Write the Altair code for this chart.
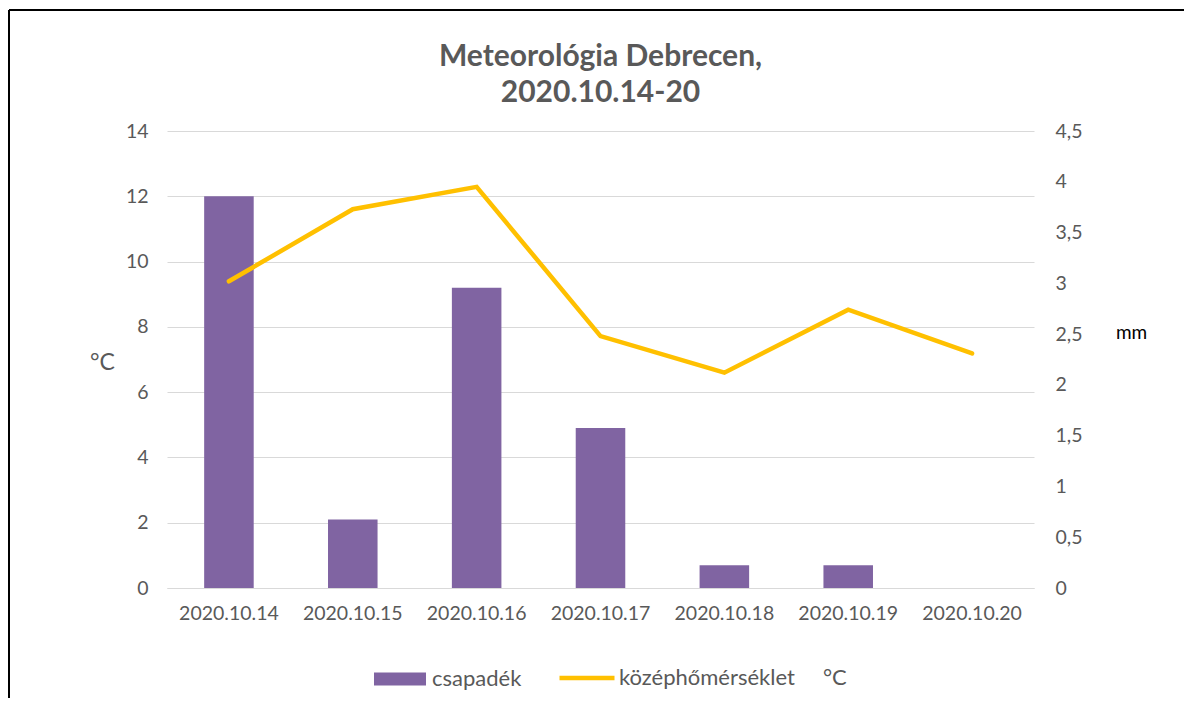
import altair as alt
import pandas as pd

dates = ["2020.10.14", "2020.10.15", "2020.10.16", "2020.10.17", "2020.10.18", "2020.10.19", "2020.10.20"]
csapadek = [12.0, 2.1, 9.2, 4.9, 0.7, 0.7, 0.0]
homerseklet = [3.02, 3.73, 3.95, 2.48, 2.12, 2.74, 2.31]

bar_name = "csapadék"
line_name = "középhőmérséklet\u00a0\u00a0\u00a0\u00a0\u00a0°C"
left_ticks = [0, 2, 4, 6, 8, 10, 12, 14]
right_ticks = [0, 0.5, 1, 1.5, 2, 2.5, 3, 3.5, 4, 4.5]

df = pd.DataFrame({"datum": dates, "csapadek": csapadek, "hom": homerseklet,
                   "s1": bar_name, "s2": line_name})

GREY = "#595959"
FONT = "Lato"

x_enc = alt.X("datum:N", sort=dates, title=None,
              scale=alt.Scale(paddingInner=0.6, paddingOuter=0.3),
              axis=alt.Axis(labelAngle=0, labelColor=GREY, labelFontSize=19.5, labelFont=FONT,
                            labelPadding=16, ticks=False, domainColor="#D9D9D9", domainWidth=1))

bars = alt.Chart(df).mark_bar(color="#8064A2").encode(
    x=x_enc,
    y=alt.Y("csapadek:Q", scale=alt.Scale(domain=[0, 14], nice=False),
            axis=alt.Axis(values=left_ticks, title="°C", titleAngle=0, titleFontSize=23,
                          titleFontWeight="normal", titleColor=GREY, titleFont=FONT,
                          titleX=-65, titleY=231, titleAlign="center", titleBaseline="middle",
                          labelColor=GREY, labelFontSize=19.5, labelFont=FONT, labelPadding=19,
                          ticks=False, domain=False, grid=True, gridColor="#D9D9D9", gridWidth=1)),
    fill=alt.Fill("s1:N", scale=alt.Scale(domain=[bar_name], range=["#8064A2"]),
                  legend=alt.Legend(title=None, orient="none", legendX=207, legendY=522,
                                    symbolType="M-1,-0.25H1V0.25H-1Z", symbolSize=2704,
                                    symbolStrokeWidth=0, labelFontSize=22, labelColor=GREY,
                                    labelFont=FONT, labelOffset=6, padding=0, labelLimit=400)),
)

line = alt.Chart(df).mark_line(strokeWidth=4.5, strokeCap="round").encode(
    x=alt.X("datum:N", sort=dates),
    y=alt.Y("hom:Q", scale=alt.Scale(domain=[0, 4.5], nice=False),
            axis=alt.Axis(orient="right", values=right_ticks, title="mm", titleAngle=0,
                          titleFontSize=19, titleFontWeight="normal", titleColor="#000000",
                          titleFont=FONT, titleX=97, titleY=201, titleAlign="center",
                          titleBaseline="middle",
                          labelExpr="replace(toString(datum.value), '.', ',')",
                          labelColor=GREY, labelFontSize=19.5, labelFont=FONT, labelPadding=21,
                          ticks=False, domain=False, grid=False)),
    stroke=alt.Stroke("s2:N", scale=alt.Scale(domain=[line_name], range=["#FFC000"]),
                      legend=alt.Legend(title=None, orient="none", legendX=390, legendY=517,
                                        symbolType="stroke", symbolSize=3025,
                                        symbolStrokeWidth=4.5, labelFontSize=22, labelColor=GREY,
                                        labelFont=FONT, labelOffset=2, padding=0, labelLimit=400)),
)

frame_df = pd.DataFrame({"k": [1]})
frame_top = alt.Chart(frame_df).mark_rule(color="#000000", strokeWidth=2).encode(
    x=alt.value(-158), x2=alt.value(1100), y=alt.value(-121))
frame_left = alt.Chart(frame_df).mark_rule(color="#000000", strokeWidth=2).encode(
    x=alt.value(-158), y=alt.value(-121), y2=alt.value(700))

chart = alt.layer(bars, line, frame_top, frame_left).resolve_scale(
    y="independent", fill="independent", stroke="independent"
).properties(
    width=867, height=457,
    title=alt.TitleParams(["Meteorológia Debrecen,", "2020.10.14-20"], fontSize=30,
                          font=FONT, fontWeight="bold", color=GREY, lineHeight=36,
                          anchor="middle", offset=0, dy=99),
    autosize=alt.AutoSizeParams(type="none"),
    padding={"left": 159, "top": 123, "right": 150, "bottom": 110},
).configure(font=FONT, background="white").configure_view(stroke=None)

chart.save("out.html", embed_options={"renderer": "svg", "actions": False})
